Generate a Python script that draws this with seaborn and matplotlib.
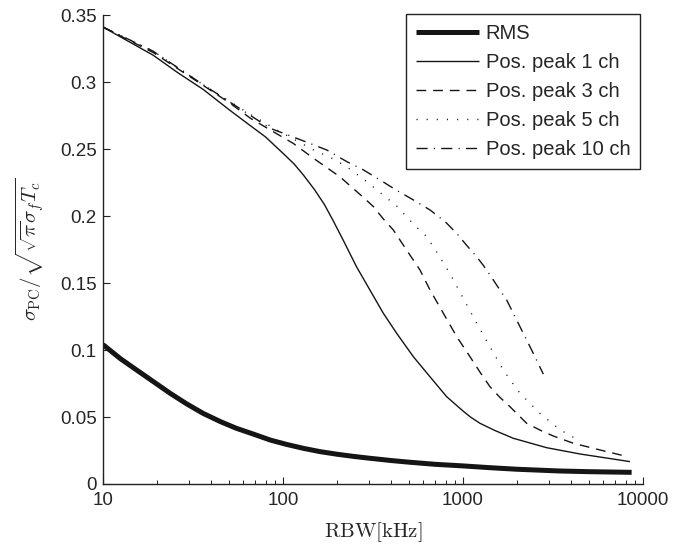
#!/usr/bin/env python3

import pandas as pd
import seaborn as sns
from matplotlib import pyplot as plt

# RBW [kHz] and normalised sigma_PC
rms_x = [10, 12.5, 15.4, 19, 23.6, 29, 36, 45, 55, 70, 85, 105, 130, 160, 200, 250,
         304, 400, 500, 700, 1000, 1400, 2000, 3460, 5000, 8650]
rms_y = [0.104, 0.0935, 0.085, 0.0765, 0.0677, 0.0600, 0.0527, 0.0465, 0.0416,
         0.0368, 0.0328, 0.0295, 0.0266, 0.0242, 0.0222, 0.0205, 0.0192, 0.0175,
         0.0163, 0.0147, 0.0135, 0.0122, 0.0110, 0.0097, 0.0092, 0.0087]

ch1_x = [10, 19, 26, 36, 50, 65, 80, 100, 115, 130, 150, 170, 190, 216, 256, 304,
         361, 428, 530, 656, 811, 1000, 1100, 1243, 1500, 1905, 2917, 4470, 8470]
ch1_y = [0.341, 0.320, 0.307, 0.2945, 0.2795, 0.268, 0.259, 0.2468, 0.2390, 0.2305,
         0.2195, 0.2085, 0.1965, 0.1820, 0.1622, 0.1448, 0.1274, 0.1125, 0.0950,
         0.0800, 0.0652, 0.0545, 0.0500, 0.0453, 0.0400, 0.0341, 0.0271, 0.0224,
         0.0167]

ch3_x = [10, 19, 36, 51, 66, 85, 114, 148, 207, 279, 318, 360, 410, 486, 577, 656,
         778, 923, 1094, 1250, 1413, 1600, 1824, 2258, 2700, 3177, 4106, 5770, 7940]
ch3_y = [0.341, 0.322, 0.2975, 0.284, 0.2729, 0.2642, 0.2542, 0.2430, 0.2293,
         0.2140, 0.2070, 0.1980, 0.1896, 0.1746, 0.1597, 0.1448, 0.1274, 0.1100,
         0.0950, 0.0830, 0.0726, 0.0648, 0.0577, 0.0453, 0.0400, 0.0358, 0.0304,
         0.0254, 0.0209]

ch5_x = [10, 19, 36, 66, 96, 148, 191, 226, 292, 350, 428, 530, 628, 700, 847,
         1004, 1191, 1413, 1675, 2073, 2678, 3460, 4280]
ch5_y = [0.341, 0.323, 0.298, 0.2757, 0.2630, 0.2493, 0.2425, 0.2368, 0.2256,
         0.2170, 0.2075, 0.1940, 0.1846, 0.1750, 0.1570, 0.1385, 0.1200, 0.1025,
         0.0850, 0.0677, 0.0527, 0.0405, 0.0335]

ch10_x = [10, 19, 36, 85, 119, 175, 226, 279, 346, 430, 530, 656, 800, 923, 1050,
          1191, 1300, 1413, 1600, 1749, 2073, 2459, 2795]
ch10_y = [0.341, 0.323, 0.298, 0.2654, 0.2580, 0.2493, 0.2406, 0.2345, 0.2269,
          0.2190, 0.2120, 0.2045, 0.1955, 0.1870, 0.1780, 0.1696, 0.1630, 0.1560,
          0.1450, 0.1373, 0.1174, 0.0975, 0.0820]

labels = ["RMS", "Pos. peak 1 ch", "Pos. peak 3 ch", "Pos. peak 5 ch", "Pos. peak 10 ch"]

x_ticks = [10, 100, 1000, 10000]
x_tick_labels = ["10", "100", "1000", "10000"]
y_ticks = [0, 0.05, 0.1, 0.15, 0.2, 0.25, 0.3, 0.35]
y_tick_labels = ["0", "0.05", "0.1", "0.15", "0.2", "0.25", "0.3", "0.35"]


def main():
    series = [(rms_x, rms_y), (ch1_x, ch1_y), (ch3_x, ch3_y), (ch5_x, ch5_y), (ch10_x, ch10_y)]
    styles = [
        dict(linewidth=3.6, linestyle="-"),
        dict(linewidth=1.0, linestyle="-"),
        dict(linewidth=1.0, linestyle=(0, (7, 5))),
        dict(linewidth=1.0, linestyle=(0, (0.8, 6.5))),
        dict(linewidth=1.0, linestyle=(0, (8, 4.5, 0.8, 4.5))),
    ]

    sns.set_style("ticks")
    plt.rcParams["font.family"] = ["Liberation Sans", "DejaVu Sans"]
    plt.rcParams["mathtext.fontset"] = "cm"
    plt.rcParams["xtick.direction"] = "in"
    plt.rcParams["ytick.direction"] = "in"

    fig = plt.figure(figsize=(6.84, 5.5), dpi=100)
    ax = fig.add_axes([0.1506, 0.12, 0.7894, 0.8527])

    for (xs, ys), label, st in zip(series, labels, styles):
        df = pd.DataFrame({"RBW": xs, "sigma": ys})
        sns.lineplot(df, x="RBW", y="sigma", ax=ax, color="#151515", label=label,
                     errorbar=None, sort=False, solid_capstyle="butt",
                     solid_joinstyle="round", **st)

    ax.set_xscale("log")
    ax.set_xlim(10, 10000)
    ax.set_ylim(0, 0.35)
    ax.set_xticks(x_ticks, x_tick_labels)
    ax.set_yticks(y_ticks, y_tick_labels)
    ax.tick_params(axis="both", which="major", labelsize=13.5, length=5, width=0.8,
                   color="#222222")
    ax.tick_params(axis="x", which="major", pad=6)
    ax.tick_params(axis="y", which="major", pad=4.5)
    ax.tick_params(axis="x", which="minor", length=3, width=0.7, color="#222222")
    ax.tick_params(axis="y", which="minor", left=False)

    for side in ["top", "right"]:
        ax.spines[side].set_visible(False)
    for side in ["left", "bottom"]:
        ax.spines[side].set_linewidth(1.0)
        ax.spines[side].set_color("#222222")

    ax.set_xlabel(r"$\mathrm{RBW[kHz]}$", fontsize=15, labelpad=8)
    ax.set_ylabel(r"$\sigma_{\mathrm{PC}}/\sqrt{\sqrt{\pi}\sigma_f T_c}$", fontsize=15, labelpad=10)

    leg = ax.legend(loc="upper right", bbox_to_anchor=(0.995, 1.003), fontsize=14.5,
                    frameon=True, fancybox=False, edgecolor="#222222",
                    handlelength=3.1, handletextpad=0.35, labelspacing=0.5,
                    borderpad=0.5, borderaxespad=0)
    leg.get_frame().set_linewidth(1.0)
    leg.get_frame().set_alpha(1)

    plt.savefig("out.png", dpi=100)
    plt.close()


if __name__ == '__main__':
    main()
